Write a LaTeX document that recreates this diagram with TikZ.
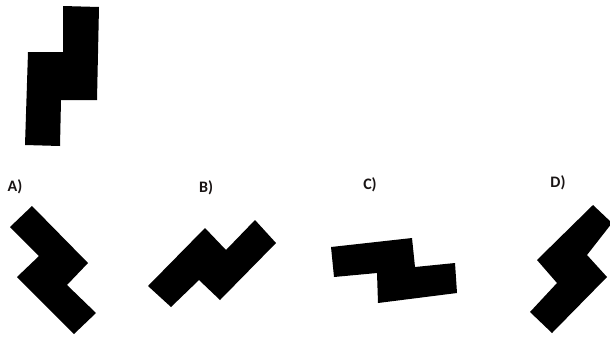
\documentclass[tikz,border=0pt]{standalone}
\usepackage{fontspec}
\setmainfont{Carlito}
\usetikzlibrary{positioning,calc}
\definecolor{InkBlack}{RGB}{0,0,0}
\definecolor{LabelDark}{RGB}{25,20,20}
\tikzset{
  piece/.style={fill=InkBlack,draw=none},
  choice/.style={text=LabelDark,font=\fontsize{16}{19}\selectfont\bfseries,inner sep=0pt},
}

\begin{document}
\begin{tikzpicture}[x=1pt,y=-1pt]
  \useasboundingbox (0,0) rectangle (610,349);
  \clip (0,0) rectangle (610,349);

  % the given piece
  \fill[piece] (63,6)--(99,7)--(97,100)--(61,100)--(60,146)--(25,145)--(28,52)--(63,52)--cycle;

  % options
  \node[choice] (lA) at (15,187) {A)};
  \node[choice] (lB) at (206,188) {B)};
  \node[choice] (lC) at (370,185) {C)};
  \node[choice] (lD) at (558,183) {D)};

  \fill[piece] (32,206)--(10,227)--(39,256)--(17,277)--(74,334)--(96,313)--(67,285)--(88,263)--cycle;
  \fill[piece] (148,286)--(171,307)--(199,280)--(220,300)--(276,243)--(255,220)--(226,250)--(205,228)--cycle;
  \fill[piece] (331,247)--(334,277)--(377,273)--(378,303)--(457,293)--(455,263)--(415,267)--(412,238)--cycle;
  \fill[piece] (593,205)--(612,223)--(587,255)--(607,277)--(552,333)--(530,312)--(557,283)--(537,260)--cycle;
\end{tikzpicture}
\end{document}
